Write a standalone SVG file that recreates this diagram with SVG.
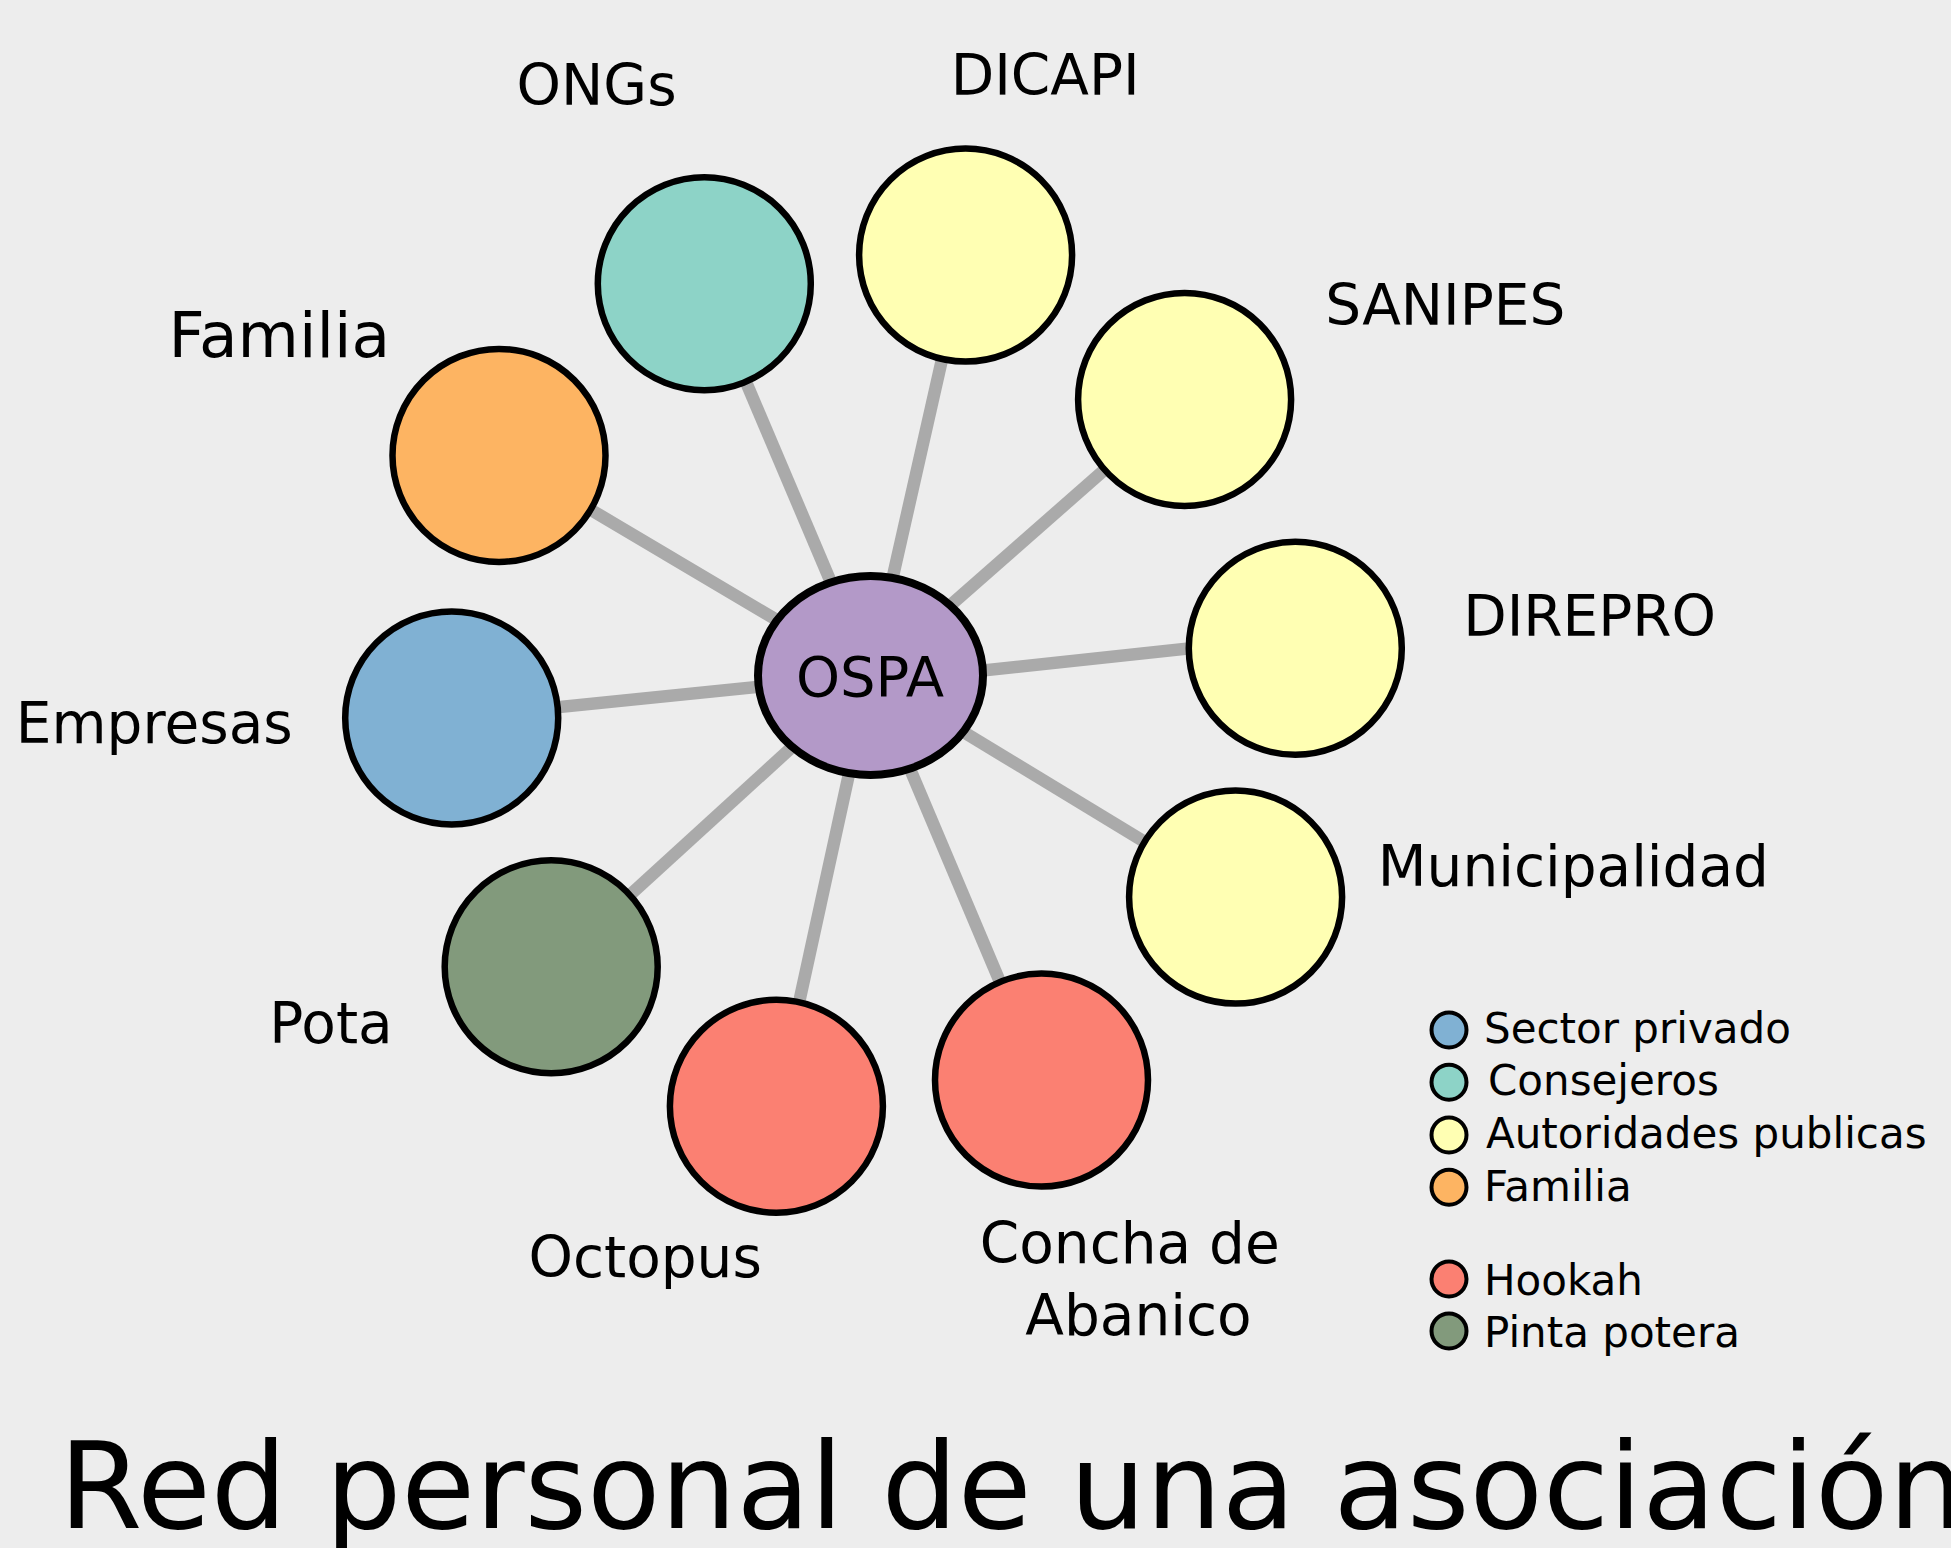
<svg xmlns="http://www.w3.org/2000/svg" width="1951" height="1548" viewBox="0 0 1951 1548">
<style>
text { font-family: "DejaVu Sans", "Liberation Sans", sans-serif; fill: #000; }
.lbl { font-size: 56.5px; text-anchor: middle; }
.node { stroke: #000; stroke-width: 6.5; }
.edge { stroke: #aaaaaa; stroke-width: 12.5; }
.leg { stroke: #000; stroke-width: 4; }
.legt { font-size: 42px; }
.sp { fill: #80b1d3; }
.co { fill: #8dd3c7; }
.au { fill: #ffffb3; }
.fa { fill: #fdb462; }
.ho { fill: #fb8072; }
.pp { fill: #829a7c; }
</style>
<rect x="0" y="0" width="1951" height="1548" fill="#ededed"/>
<g id="connectors">
<line class="edge" x1="870.5" y1="675.5" x2="704.3" y2="283.7"/>
<line class="edge" x1="870.5" y1="675.5" x2="965.6" y2="255.1"/>
<line class="edge" x1="870.5" y1="675.5" x2="1184.6" y2="399.4"/>
<line class="edge" x1="870.5" y1="682.5" x2="1295.3" y2="637"/>
<line class="edge" x1="870.5" y1="675.5" x2="1235.6" y2="897.1"/>
<line class="edge" x1="870.5" y1="675.5" x2="1041.5" y2="1080.1"/>
<line class="edge" x1="870.5" y1="675.5" x2="776.4" y2="1106.2"/>
<line class="edge" x1="870.5" y1="675.5" x2="551.2" y2="966.8"/>
<line class="edge" x1="870.5" y1="675.5" x2="451.7" y2="718"/>
<line class="edge" x1="870.5" y1="675.5" x2="499" y2="455.4"/>
</g>
<g id="node-ongs"><circle class="node co" cx="704.3" cy="283.7" r="106.5"/><text class="lbl" x="596.6" y="105">ONGs</text></g>
<g id="node-dicapi"><circle class="node au" cx="965.6" cy="255.1" r="106.5"/><text class="lbl" x="1045.2" y="95">DICAPI</text></g>
<g id="node-sanipes"><circle class="node au" cx="1184.6" cy="399.4" r="106.5"/><text class="lbl" x="1445.3" y="324.8">SANIPES</text></g>
<g id="node-direpro"><circle class="node au" cx="1295.3" cy="648.3" r="106.5"/><text class="lbl" x="1589.6" y="635.8">DIREPRO</text></g>
<g id="node-municipalidad"><circle class="node au" cx="1235.6" cy="897.1" r="106.5"/><text class="lbl" x="1573.4" y="886">Municipalidad</text></g>
<g id="node-concha"><circle class="node ho" cx="1041.5" cy="1080.1" r="106.5"/><text class="lbl" x="1129.8" y="1263">Concha de</text><text class="lbl" x="1138.5" y="1335">Abanico</text></g>
<g id="node-octopus"><circle class="node ho" cx="776.4" cy="1106.2" r="106.5"/><text class="lbl" x="645.2" y="1276.7">Octopus</text></g>
<g id="node-pota"><circle class="node pp" cx="551.2" cy="966.8" r="106.5"/><text class="lbl" x="331" y="1042.7">Pota</text></g>
<g id="node-empresas"><circle class="node sp" cx="451.7" cy="718" r="106.5"/><text class="lbl" x="154.3" y="742.8">Empresas</text></g>
<g id="node-familia"><circle class="node fa" cx="499" cy="455.4" r="106.5"/><text class="lbl" x="279.3" y="357" style="font-size:63px">Familia</text></g>
<g id="node-ospa"><ellipse cx="870.5" cy="675.5" rx="112.5" ry="99.5" fill="#b399c8" stroke="#000" stroke-width="8"/><text x="870" y="696" text-anchor="middle" style="font-size:56px">OSPA</text></g>
<g id="legend">
<circle class="leg sp" cx="1449" cy="1030" r="17.5"/><text class="legt" x="1484" y="1043">Sector privado</text>
<circle class="leg co" cx="1449" cy="1082.3" r="17.5"/><text class="legt" x="1488" y="1095">Consejeros</text>
<circle class="leg au" cx="1449" cy="1135" r="17.5"/><text class="legt" x="1486" y="1147.7">Autoridades publicas</text>
<circle class="leg fa" cx="1449" cy="1187.3" r="17.5"/><text class="legt" x="1484" y="1201">Familia</text>
<circle class="leg ho" cx="1449" cy="1279" r="17.5"/><text class="legt" x="1484" y="1295">Hookah</text>
<circle class="leg pp" cx="1449" cy="1331" r="17.5"/><text class="legt" x="1484" y="1346.7">Pinta potera</text>
</g>
<text id="title" x="59" y="1528" style="font-size:120px">Red personal de una asociación</text>
</svg>
